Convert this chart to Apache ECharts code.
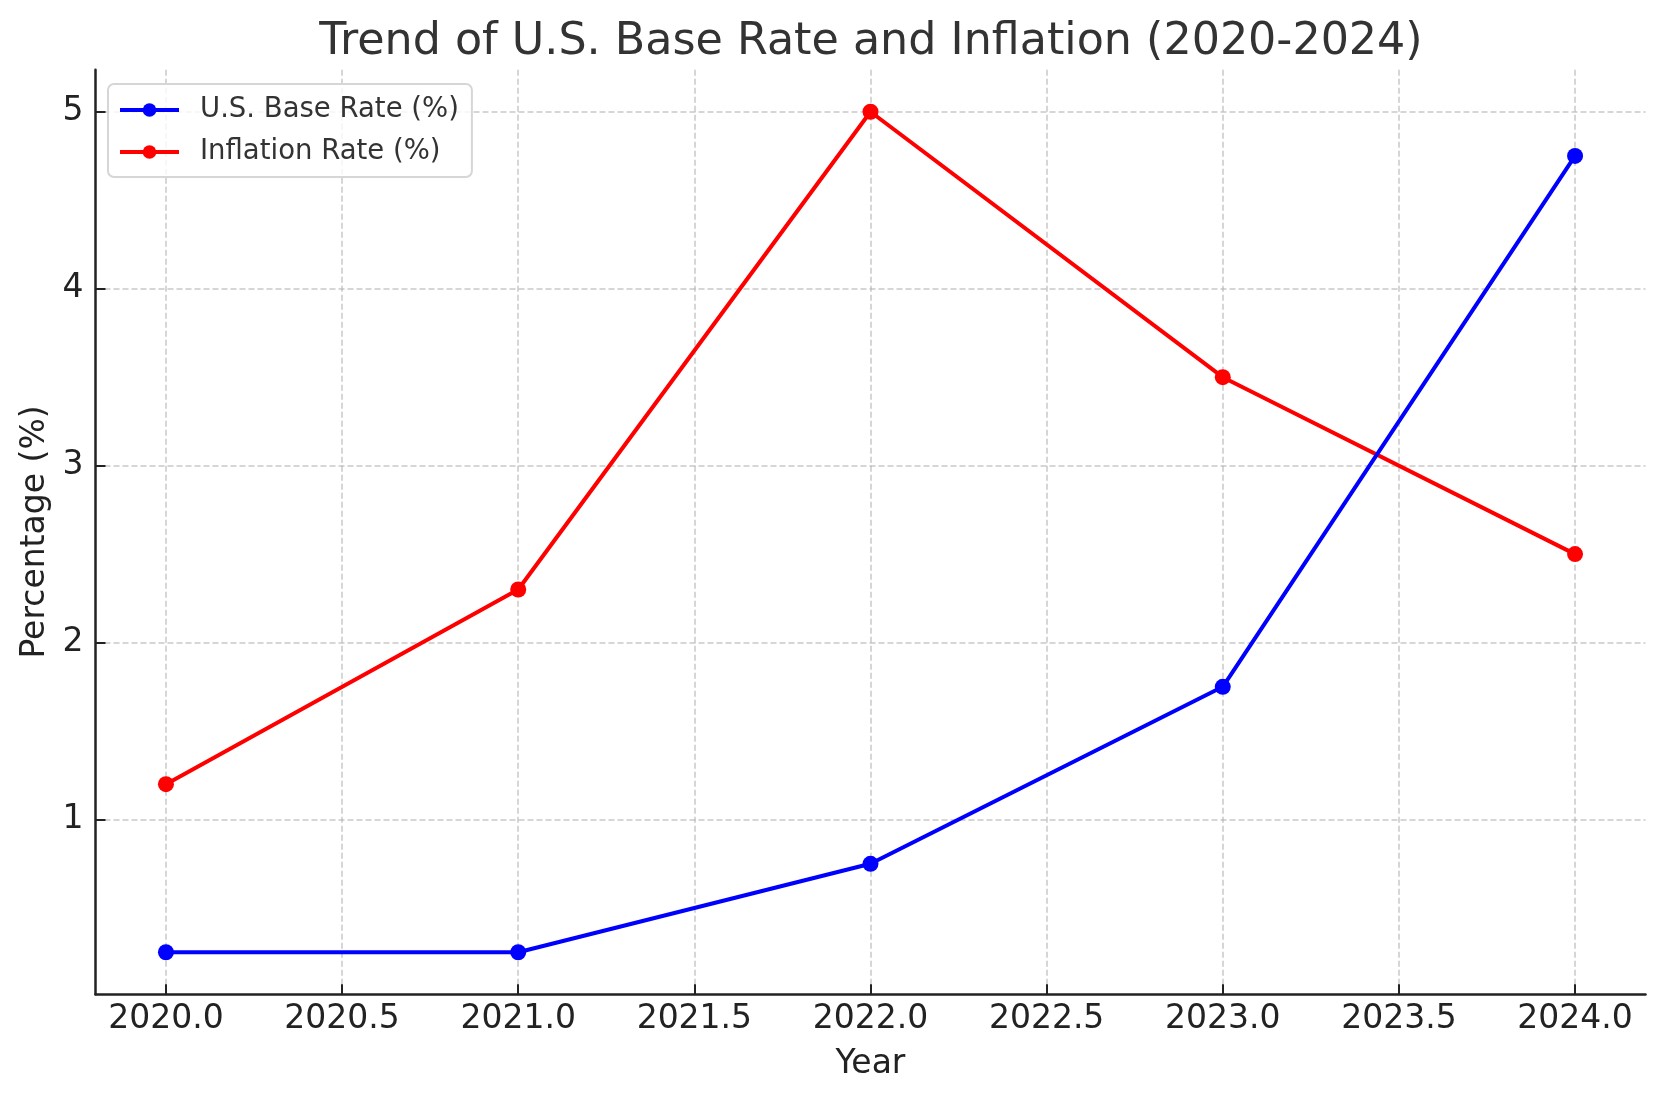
<!DOCTYPE html>
<html>
<head>
<meta charset="utf-8">
<script src="https://cdn.jsdelivr.net/npm/echarts@6/dist/echarts.min.js"></script>
<style>
html,body{margin:0;padding:0;background:#fff;}
#chart{width:1665px;height:1101px;}
</style>
</head>
<body>
<div id="chart"></div>
<script>
const years = [2020, 2021, 2022, 2023, 2024];
const baseRate = [0.25, 0.25, 0.75, 1.75, 4.75];
const inflation = [1.2, 2.3, 5.0, 3.5, 2.5];
const xTicks = [2020.0, 2020.5, 2021.0, 2021.5, 2022.0, 2022.5, 2023.0, 2023.5, 2024.0];
const yTicks = [1, 2, 3, 4, 5];
const titleText = 'Trend of U.S. Base Rate and Inflation (2020-2024)';
const seriesNames = ['U.S. Base Rate (%)', 'Inflation Rate (%)'];

const FONT = 'DejaVu Sans';
const chart = echarts.init(document.getElementById('chart'), null, {renderer: 'canvas'});

const gridDash = {color: 'rgba(176,176,176,0.7)', width: 1.5, type: [6, 3]};

chart.setOption({
  animation: false,
  backgroundColor: '#ffffff',
  title: {
    text: titleText,
    left: 866, textAlign: 'center',
    top: 15,
    textStyle: {fontFamily: FONT, fontSize: 44.4, fontWeight: 'normal', color: '#333333'}
  },
  legend: {
    left: 108, top: 84,
    orient: 'vertical',
    padding: [12, 13, 11, 10],
    itemGap: 14,
    itemWidth: 59, itemHeight: 17,
    lineStyle: {width: 4},
    backgroundColor: 'rgba(255,255,255,0.8)',
    borderColor: '#d6d6d6', borderWidth: 2, borderRadius: 6,
    textStyle: {fontFamily: FONT, fontSize: 27.5, lineHeight: 28, color: '#333333', padding: [0, 0, 0, 16]},
    data: seriesNames
  },
  grid: {left: 95.5, top: 69.7, width: 1550, height: 924.6, containLabel: false},
  xAxis: {
    type: 'value',
    min: 2019.8, max: 2024.2,
    name: 'Year', nameLocation: 'middle', nameGap: 54,
    nameTextStyle: {fontFamily: FONT, fontSize: 33, color: '#222222'},
    axisLine: {show: true, onZero: false, lineStyle: {color: '#222222', width: 2.5}},
    axisTick: {show: true, inside: true, length: 10, customValues: xTicks, lineStyle: {color: '#222222', width: 2}},
    axisLabel: {customValues: xTicks, fontFamily: FONT, fontSize: 33, color: '#222222', margin: 9,
      formatter: v => Number(v).toFixed(1)},
    splitLine: {show: true, lineStyle: gridDash}
  },
  yAxis: {
    type: 'value',
    min: 0.0125, max: 5.2375,
    name: 'Percentage (%)', nameLocation: 'middle', nameGap: 43,
    nameTextStyle: {fontFamily: FONT, fontSize: 33, color: '#222222'},
    axisLine: {show: true, onZero: false, lineStyle: {color: '#222222', width: 2.5}},
    axisTick: {show: true, inside: true, length: 10, customValues: yTicks, lineStyle: {color: '#222222', width: 2}},
    axisLabel: {customValues: yTicks, fontFamily: FONT, fontSize: 33, color: '#222222', margin: 12,
      formatter: v => String(Math.round(v))},
    splitLine: {show: true, lineStyle: gridDash}
  },
  series: [
    {
      name: seriesNames[0], type: 'line',
      data: years.map((y, i) => [y, baseRate[i]]),
      symbol: 'circle', symbolSize: 16,
      itemStyle: {color: '#0000ff'},
      lineStyle: {color: '#0000ff', width: 4},
      z: 3
    },
    {
      name: seriesNames[1], type: 'line',
      data: years.map((y, i) => [y, inflation[i]]),
      symbol: 'circle', symbolSize: 16,
      itemStyle: {color: '#ff0000'},
      lineStyle: {color: '#ff0000', width: 4},
      z: 2
    }
  ]
});
</script>
</body>
</html>
